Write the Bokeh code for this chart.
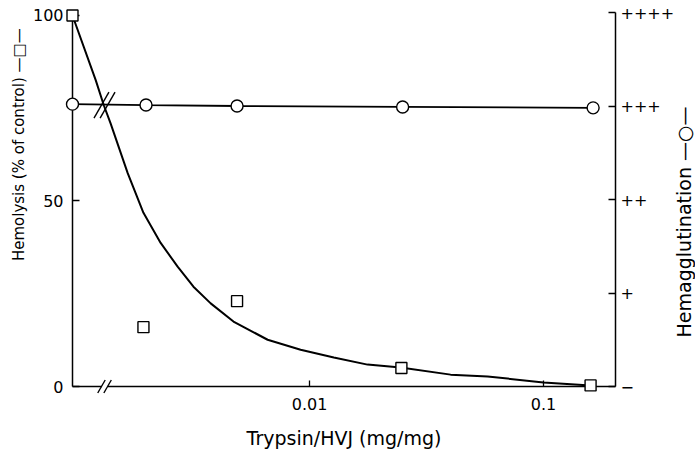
import math
from bokeh.plotting import figure
from bokeh.models import Range1d, LinearAxis, FixedTicker
from bokeh.core.properties import value
from bokeh.embed import file_html
from bokeh.resources import INLINE

# ---- data ----
# the untreated control (0 mg/mg) is plotted at the left edge, before the axis break
hemolysis_dose = [0.00097, 0.00195, 0.0049, 0.0247, 0.159]
hemolysis_pct = [100, 16, 23, 5, 0.3]

hemagg_dose = [0.00097, 0.002, 0.0049, 0.025, 0.163]
hemagg_score = [3.02, 3.01, 3.0, 2.99, 2.98]

# hand-drawn fitted hemolysis curve
curve_dose = [0.00097, 0.00122, 0.00132, 0.00141, 0.00167, 0.00195, 0.00231,
              0.00273, 0.00319, 0.00378, 0.00473, 0.00662, 0.00916, 0.0127,
              0.0177, 0.0245, 0.0401, 0.0577, 0.100, 0.159]
curve_pct = [100, 82.5, 75.8, 71.0, 57.5, 46.8, 38.7, 32.3, 26.9, 22.4, 17.5,
             12.6, 9.9, 7.8, 5.9, 5.1, 3.2, 2.7, 1.1, 0.3]

x_ticks = [0.01, 0.1]
x_tick_labels = ["0.01", "0.1"]
y_ticks = [0, 50, 100]
hemagg_ticks = [0, 1, 2, 3, 4]
hemagg_labels = ["\u2212", "+", "++", "+++", "++++"]

break_dose = [0.00129, 0.00137]   # positions of the "//" axis-break marks

FONT = "DejaVu Sans"
NB = "\u00a0"

p = figure(width=695, height=451, output_backend="svg", toolbar_location=None,
           x_axis_type="log", x_range=Range1d(0.000970, 0.2032),
           y_range=Range1d(0, 100.8),
           min_border_left=72, min_border_right=80, min_border_top=12,
           min_border_bottom=64, y_axis_location=None)
p.outline_line_color = None
p.xgrid.visible = False
p.ygrid.visible = False
p.background_fill_color = "white"
p.border_fill_color = "white"
p.extra_y_ranges = {"hemagg": Range1d(0, 4)}

# left axis
ya = LinearAxis(ticker=FixedTicker(ticks=y_ticks, minor_ticks=[]), bounds=(0, 100),
                axis_label=NB * 23 + "Hemolysis (% of control) \u2014\u25a1\u2014")
p.add_layout(ya, "left")
# right axis
ra = LinearAxis(y_range_name="hemagg", ticker=FixedTicker(ticks=hemagg_ticks, minor_ticks=[]),
                bounds=(0, 4),
                major_label_overrides=dict(zip(hemagg_ticks, hemagg_labels)))
p.add_layout(ra, "right")

xa = p.xaxis[0]
xa.ticker = FixedTicker(ticks=x_ticks, minor_ticks=[])
xa.major_label_overrides = dict(zip(x_ticks, x_tick_labels))
xa.axis_label = "Trypsin/HVJ (mg/mg)"

for ax in (xa, ya, ra):
    ax.axis_line_color = "black"
    ax.axis_line_width = 1.5
    ax.major_tick_in = 7
    ax.major_tick_out = 0
    ax.major_tick_line_color = "black"
    ax.major_tick_line_width = 1.3
    ax.minor_tick_line_color = None
    ax.major_label_text_font = FONT
    ax.major_label_text_font_size = "16px"
    ax.major_label_text_color = "black"
    ax.axis_label_text_font = FONT
    ax.axis_label_text_font_style = "normal"
    ax.axis_label_text_color = "black"

ya.major_label_standoff = 9
ya.axis_label_standoff = 2
ya.axis_label_text_font_size = "15px"
ra.major_label_standoff = 5
xa.major_tick_in = 6
xa.major_label_standoff = 11
xa.axis_label_standoff = 14
xa.axis_label_text_font_size = "19px"

# right-hand axis title (reads bottom to top), drawn outside the frame
p.text(x=[0.40], y=[1.76], text=["Hemagglutination \u2014\u25cb\u2014"],
       y_range_name="hemagg", angle=math.pi / 2, text_align="center",
       text_baseline="middle", text_font=value(FONT), text_font_size="19px",
       text_color="black", level="overlay")

# hemolysis curve and points
p.line(curve_dose, curve_pct, line_color="black", line_width=2)
p.scatter(hemolysis_dose, hemolysis_pct, marker="square", size=11,
          fill_color="white", line_color="black", line_width=1.4, level="overlay")

# hemagglutination line and points
p.line(hemagg_dose, hemagg_score, y_range_name="hemagg", line_color="black", line_width=1.8)
p.scatter(hemagg_dose, hemagg_score, y_range_name="hemagg", marker="circle", size=12,
          fill_color="white", line_color="black", line_width=1.4, level="overlay")

# axis-break marks
mid = [(break_dose[0] * break_dose[1]) ** 0.5]
p.scatter(mid, [0], marker="square", size=6, fill_color="white", line_color=None,
          level="overlay")
p.scatter(break_dose, [0, 0], marker="dash", size=15, angle=1.05,
          line_color="black", line_width=1.4, level="overlay")
p.scatter(break_dose, [3.01, 3.01], y_range_name="hemagg", marker="dash", size=30,
          angle=1.05, line_color="black", line_width=1.4, level="overlay")

open("out.html", "w").write(file_html(p, INLINE))
